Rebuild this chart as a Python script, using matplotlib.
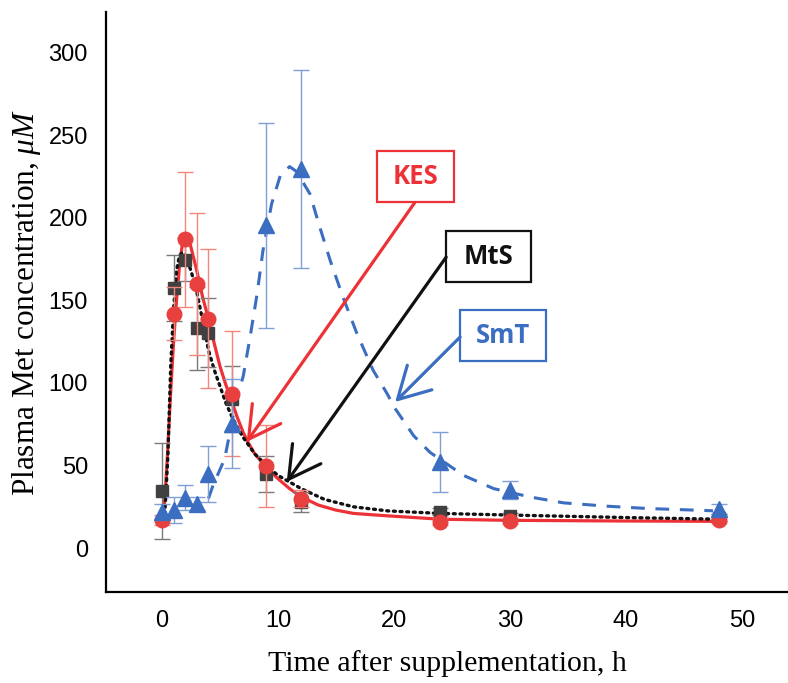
import matplotlib
matplotlib.use("Agg")
import matplotlib.pyplot as plt
from matplotlib.patches import Rectangle

plt.rcParams["mathtext.fontset"] = "custom"
plt.rcParams["mathtext.rm"] = "Liberation Serif"
plt.rcParams["mathtext.it"] = "Liberation Serif:italic"

# measured points
t = [0, 1, 2, 3, 4, 6, 9, 12, 24, 30, 48]
kes = [17, 142, 187, 160, 139, 93.6, 49.6, 30, 16, 16.5, 17]
kes_err = [3, 16, 41, 43, 42, 38, 25, 5, 2, 2, 2]
mts = [34.5, 157.5, 174.6, 133, 130.4, 90, 45, 28, 22, 19.5, 18.5]
mts_err = [29, 20, 13, 25, 21, 20, 11, 6, 2, 2, 2]
smt = [22, 23, 30.6, 27, 44.8, 75.4, 195.4, 229.7, 52.2, 35, 23.4]
smt_err = [5, 8, 7.5, 4, 17, 27, 62, 60, 18, 5.5, 3]

# fitted curves
kes_ct = [0, 0.25, 0.5, 0.75, 1.0, 1.25, 1.5, 1.75, 2.0, 2.25, 2.5, 3.0, 3.5, 4.0,
          4.5, 5.0, 5.5, 6.0, 6.5, 7.0, 7.5, 8.0, 8.5, 9.0, 10, 11, 12, 13.5, 15,
          16.5, 19.5, 24, 30, 40, 48]
kes_cv = [17, 30, 60, 95, 125, 150, 170, 184, 190, 189, 182, 168, 152, 139,
          124, 110, 99, 89, 79, 70, 63, 57, 53, 49, 42, 36, 31, 26, 23,
          21, 19.5, 17.5, 16.8, 16.4, 16.2]
mts_ct = [0, 0.25, 0.5, 0.75, 1.0, 1.25, 1.5, 1.75, 2.0, 2.5, 3.0, 3.5, 4.0, 4.5,
          5.0, 5.5, 6.0, 6.5, 7.0, 7.5, 8.0, 9.0, 10, 11, 12, 14, 16.5, 19.5,
          24, 30, 40, 48]
mts_cv = [17, 22, 55, 110, 145, 168, 177, 179, 177, 168, 155, 138, 120, 108,
          98, 88, 80, 73, 67, 62, 57, 50, 44, 40, 36, 29.5, 25, 22.5,
          21, 20, 18.5, 17.5]
smt_ct = [4.0, 4.4, 5.4, 6.4, 7.0, 7.6, 8.2, 8.7, 9.45, 10.2, 11.0, 11.6, 12.75,
          13.6, 14.5, 15.6, 16.8, 18.2, 19.4, 20.1, 21.7, 23.1, 26, 28.6, 31.7,
          34.6, 38.3, 41.8, 47.5]
smt_cv = [30, 38, 54, 89.5, 104, 128, 154, 180, 208.5, 225.6, 231, 228, 214.5,
          194.4, 174.2, 152, 130, 107.7, 93.6, 84.5, 68, 58, 44, 36, 31,
          27.4, 25.4, 24, 22.6]

red = "#ED3237"
black = "#111111"
blue = "#3B6EC0"

fig = plt.figure(figsize=(7.88, 6.83), dpi=100)
ax = fig.add_axes([0.1345, 0.1332, 0.8655, 0.8492])

ax.plot(kes_ct, kes_cv, color=red, lw=2.3, zorder=3)
ax.plot(mts_ct, mts_cv, color=black, lw=2.4, linestyle=(0, (0.6, 1.4)),
        dash_capstyle="round", zorder=4)
ax.plot(smt_ct, smt_cv, color=blue, lw=2.2, linestyle=(0, (4.5, 3.5)), zorder=3)

ax.errorbar(t, mts, yerr=mts_err, fmt="s", color="#404040", ms=9,
            ecolor="#7a7a7a", elinewidth=1, capsize=5.5, capthick=1, zorder=5)
ax.errorbar(t, kes, yerr=kes_err, fmt="o", color="#E8403F", ms=10.5,
            ecolor="#F2857C", elinewidth=1, capsize=5.5, capthick=1, zorder=6)
ax.errorbar(t, smt, yerr=smt_err, fmt="^", color=blue, ms=11,
            ecolor="#7F9FD6", elinewidth=1, capsize=5.5, capthick=1, zorder=6)

# label boxes and arrows
boxes = [("KES", red, (18.56, 209.3, 25.2, 240.3), (21.8, 209.3), (7.3, 64.3)),
         ("MtS", black, (24.48, 161.1, 31.78, 192.3), (24.5, 176.2), (10.75, 40.1)),
         ("SmT", blue, (25.69, 113.3, 33.1, 143.9), (25.7, 127.8), (20.1, 88.5))]
for name, col, (x0, y0, x1, y1), start, tip in boxes:
    ax.add_patch(Rectangle((x0, y0), x1 - x0, y1 - y0, fill=False, edgecolor=col,
                           lw=1.6, zorder=7))
    ax.text((x0 + x1) / 2, (y0 + y1) / 2, name, color=col, fontsize=18.5,
            fontweight="bold", family="Open Sans", ha="center", va="center", zorder=7)
    ax.annotate("", xy=tip, xytext=start,
                arrowprops=dict(arrowstyle="->,head_length=0.9,head_width=0.5",
                                color=col, lw=2.3, mutation_scale=25,
                                shrinkA=0, shrinkB=0), zorder=7)

ax.set_xlim(-4.83, 53.97)
ax.set_ylim(-26.6, 324.6)
ax.set_xticks([0, 10, 20, 30, 40, 50])
ax.set_yticks([0, 50, 100, 150, 200, 250, 300])
for s in ["top", "right"]:
    ax.spines[s].set_visible(False)
for s in ["left", "bottom"]:
    ax.spines[s].set_linewidth(1.6)
ax.tick_params(length=0, pad=13, labelsize=17)
for lab in ax.get_xticklabels() + ax.get_yticklabels():
    lab.set_family("Liberation Sans")

ax.set_xlabel("Time after supplementation, h", family="Liberation Serif",
              fontsize=21.5, labelpad=13)
ax.set_ylabel(r"Plasma Met concentration, $\mu M$", family="Liberation Serif",
              fontsize=22.5, labelpad=4)

fig.savefig("out.png", dpi=100)
